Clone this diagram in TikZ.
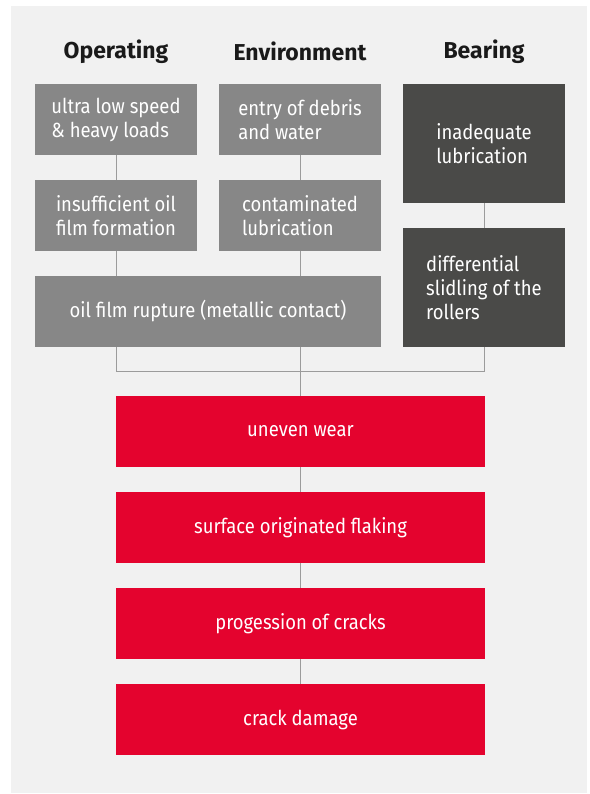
\documentclass[tikz,border=0pt]{standalone}
\usepackage{fontspec}
\setmainfont{Fira Sans}
\newfontfamily\boxfont[FakeStretch=0.9]{Fira Sans}
\definecolor{panel}{HTML}{F1F1F1}
\definecolor{boxgray}{HTML}{878787}
\definecolor{boxdark}{HTML}{4A4A48}
\definecolor{boxred}{HTML}{E4032E}
\definecolor{linegray}{HTML}{9B9B9B}
\definecolor{headtext}{HTML}{1A1A1A}
\begin{document}
\begin{tikzpicture}[x=1pt,y=-1pt,
  base/.style={inner sep=0pt, text=white, font=\boxfont\fontsize{20.5}{24}\selectfont, align=left},
  graybox/.style={base, fill=boxgray, minimum width=162pt, minimum height=71pt},
  darkbox/.style={base, fill=boxdark, minimum width=162pt, minimum height=119pt},
  redbox/.style={base, align=center, fill=boxred, minimum width=369pt, minimum height=71pt},
  head/.style={inner sep=0pt, text=headtext, font=\fontsize{23}{26}\selectfont\bfseries},
  conn/.style={draw=linegray, line width=1pt}]
\useasboundingbox (0,0) rectangle (589,794);
\fill[white] (0,0) rectangle (589,794);
\fill[panel] (11,6) rectangle (587,793);
% headings
\node[head] (h1) at (116,51.5) {Operating};
\node[head] (h2) at (300,51.5) {Environment};
\node[head] (h3) at (484,51.5) {Bearing};
% boxes
\node[graybox] (op1) at (116,119.5) {ultra low speed\\\& heavy loads};
\node[graybox] (env1) at (300,119.5) {entry of debris\\and water};
\node[darkbox] (bear1) at (484,143.5) {inadequate\\lubrication};
\node[graybox] (op2) at (116,215.5) {insufficient oil\\film formation};
\node[graybox] (env2) at (300,215.5) {contaminated\\lubrication};
\node[graybox, minimum width=346pt, align=center] (oil) at (208,311.5) {oil film rupture (metallic contact)};
\node[darkbox] (bear2) at (484,287.5) {differential\\slidling of the\\rollers};
\node[redbox] (r1) at (300.5,431.5) {uneven wear};
\node[redbox] (r2) at (300.5,527.5) {surface originated flaking};
\node[redbox] (r3) at (300.5,623.5) {progession of cracks};
\node[redbox] (r4) at (300.5,719.5) {crack damage};
\coordinate (bus) at (300,371);
% connectors
\draw[conn] (op1.south) -- (op2.north);
\draw[conn] (env1.south) -- (env2.north);
\draw[conn] (bear1.south) -- (bear2.north);
\draw[conn] (op2.south) -- (op2.south |- oil.north);
\draw[conn] (env2.south) -- (env2.south |- oil.north);
\draw[conn] (oil.south -| op2.south) -- (op2.south |- bus) -- (bear2.south |- bus) -- (bear2.south);
\draw[conn] (oil.south -| env2.south) -- (r1.north -| env2.south);
\draw[conn] (r1.south -| bus) -- (r2.north -| bus);
\draw[conn] (r2.south -| bus) -- (r3.north -| bus);
\draw[conn] (r3.south -| bus) -- (r4.north -| bus);
\end{tikzpicture}
\end{document}
